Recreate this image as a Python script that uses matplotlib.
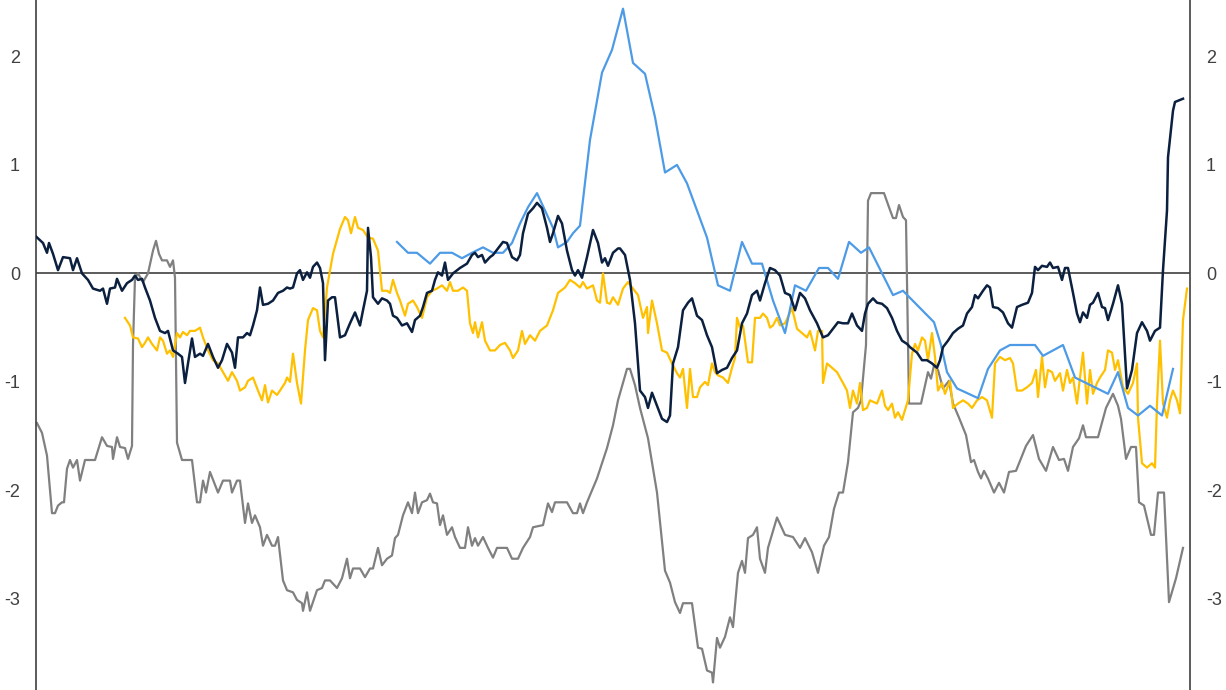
import matplotlib
matplotlib.use("Agg")
import matplotlib.pyplot as plt

# time index (arbitrary units, no x labels on the chart)
navy_t = [0, 7, 11, 13, 17, 22, 27, 34, 37, 41, 46, 52, 57, 64, 67, 71, 74, 79, 81, 86,
          91, 96, 99, 102, 106, 109, 114, 119, 124, 129, 132, 137, 142, 146, 149, 152, 156, 159, 164, 167,
          172, 177, 182, 186, 191, 196, 199, 202, 207, 211, 214, 217, 221, 224, 227, 232, 237, 242, 247, 251,
          254, 257, 261, 264, 267, 271, 274, 277, 281, 284, 287, 289, 292, 296, 299, 304, 309, 314, 319, 324,
          327, 331, 332, 335, 337, 342, 346, 351, 354, 357, 361, 366, 371, 376, 379, 384, 387, 391, 396, 399,
          402, 406, 409, 412, 417, 424, 431, 436, 439, 442, 446, 449, 454, 457, 462, 467, 471, 476, 481, 484,
          487, 492, 497, 501, 506, 511, 514, 517, 522, 526, 531, 536, 539, 542, 546, 551, 557, 562, 566, 569,
          572, 577, 582, 584, 589, 594, 599, 604, 609, 612, 616, 621, 626, 631, 634, 637, 642, 647, 652, 656,
          661, 666, 671, 676, 681, 686, 691, 696, 701, 706, 711, 716, 721, 724, 729, 734, 739, 744, 749, 754,
          759, 764, 769, 774, 781, 787, 792, 797, 802, 807, 812, 816, 821, 826, 829, 832, 837, 841, 846, 851,
          856, 861, 866, 871, 874, 881, 886, 891, 896, 901, 904, 907, 912, 917, 922, 927, 931, 936, 939, 942,
          947, 951, 954, 957, 962, 967, 972, 976, 981, 986, 992, 996, 999, 1002, 1006, 1011, 1014, 1017, 1022, 1026,
          1029, 1032, 1037, 1041, 1044, 1047, 1051, 1054, 1057, 1062, 1066, 1069, 1072, 1077, 1082, 1086, 1091, 1096, 1101, 1106,
          1111, 1114, 1119, 1124, 1127, 1131, 1132, 1137, 1139, 1147]
navy_v = [0.34, 0.28, 0.19, 0.28, 0.18, 0.03, 0.15, 0.14, 0.03, 0.14, 0.00, -0.06, -0.14, -0.16, -0.14, -0.28, -0.14, -0.13, -0.05, -0.16,
          -0.09, -0.06, -0.02, -0.06, -0.05, -0.13, -0.25, -0.41, -0.53, -0.55, -0.53, -0.71, -0.74, -0.77, -1.01, -0.83, -0.60, -0.77, -0.74, -0.76,
          -0.65, -0.77, -0.87, -0.80, -0.65, -0.73, -0.87, -0.59, -0.59, -0.55, -0.57, -0.48, -0.34, -0.13, -0.29, -0.28, -0.25, -0.18, -0.16, -0.13,
          -0.14, -0.13, 0.00, 0.03, -0.06, 0.01, -0.04, 0.06, 0.10, 0.05, -0.09, -0.80, -0.25, -0.22, -0.22, -0.59, -0.57, -0.46, -0.36, -0.48,
          -0.34, -0.16, 0.42, 0.15, -0.22, -0.28, -0.23, -0.25, -0.28, -0.39, -0.41, -0.48, -0.46, -0.54, -0.43, -0.39, -0.31, -0.18, -0.16, -0.06,
          0.01, -0.02, 0.10, -0.06, 0.00, 0.05, 0.09, 0.17, 0.19, 0.15, 0.17, 0.10, 0.15, 0.17, 0.23, 0.29, 0.28, 0.15, 0.12, 0.17,
          0.37, 0.55, 0.60, 0.65, 0.60, 0.42, 0.29, 0.37, 0.53, 0.46, 0.21, 0.03, -0.02, 0.03, -0.04, 0.15, 0.40, 0.28, 0.10, 0.14,
          0.07, 0.19, 0.23, 0.23, 0.17, -0.06, -0.46, -1.08, -1.14, -1.24, -1.10, -1.22, -1.34, -1.37, -1.31, -0.83, -0.68, -0.34, -0.27, -0.23,
          -0.39, -0.43, -0.57, -0.68, -0.92, -0.89, -0.87, -0.78, -0.71, -0.46, -0.37, -0.20, -0.16, -0.25, -0.09, 0.05, 0.03, -0.02, -0.18, -0.20,
          -0.34, -0.18, -0.23, -0.34, -0.46, -0.59, -0.57, -0.51, -0.45, -0.46, -0.46, -0.37, -0.48, -0.53, -0.37, -0.28, -0.23, -0.27, -0.28, -0.32,
          -0.41, -0.53, -0.62, -0.65, -0.68, -0.73, -0.80, -0.80, -0.83, -0.87, -0.80, -0.68, -0.62, -0.55, -0.51, -0.48, -0.37, -0.31, -0.20, -0.23,
          -0.16, -0.11, -0.13, -0.31, -0.32, -0.36, -0.46, -0.50, -0.31, -0.29, -0.27, -0.18, 0.06, 0.03, 0.07, 0.06, 0.10, 0.05, 0.06, -0.06,
          0.05, 0.05, -0.18, -0.37, -0.45, -0.36, -0.41, -0.29, -0.27, -0.18, -0.31, -0.32, -0.43, -0.28, -0.11, -0.28, -1.06, -0.89, -0.55, -0.45,
          -0.53, -0.62, -0.53, -0.50, 0.03, 0.58, 1.07, 1.50, 1.58, 1.61]

gold_t = [89, 94, 97, 102, 106, 109, 112, 116, 121, 124, 127, 131, 134, 137, 141, 144, 147, 151, 154, 159,
          164, 167, 172, 177, 182, 187, 192, 196, 201, 204, 209, 212, 217, 222, 226, 229, 232, 236, 241, 244,
          249, 251, 254, 257, 261, 265, 269, 272, 277, 281, 284, 287, 291, 297, 304, 309, 312, 315, 319, 322,
          327, 332, 337, 342, 346, 351, 354, 357, 361, 364, 369, 372, 377, 381, 386, 391, 396, 401, 406, 411,
          414, 417, 422, 427, 431, 434, 437, 439, 442, 446, 449, 454, 459, 464, 469, 474, 477, 482, 486, 489,
          494, 499, 504, 511, 517, 522, 529, 534, 539, 544, 547, 551, 557, 561, 564, 567, 571, 574, 577, 582,
          587, 592, 597, 602, 607, 611, 612, 616, 621, 626, 631, 636, 641, 644, 647, 651, 654, 657, 661, 664,
          669, 672, 676, 679, 682, 687, 692, 696, 699, 701, 704, 707, 712, 716, 719, 724, 727, 731, 734, 737,
          741, 744, 749, 756, 761, 766, 771, 774, 779, 782, 786, 787, 791, 796, 801, 804, 807, 811, 814, 817,
          821, 824, 827, 831, 834, 841, 846, 849, 852, 856, 859, 862, 866, 869, 872, 876, 879, 882, 886, 889,
          892, 896, 899, 902, 906, 909, 914, 917, 922, 927, 932, 936, 941, 946, 951, 956, 959, 964, 969, 974,
          977, 981, 986, 991, 996, 1000, 1002, 1006, 1009, 1012, 1016, 1019, 1024, 1027, 1031, 1034, 1037, 1041, 1044, 1047,
          1051, 1054, 1057, 1061, 1064, 1069, 1072, 1076, 1079, 1082, 1087, 1092, 1097, 1101, 1102, 1106, 1111, 1116, 1119, 1121,
          1124, 1127, 1131, 1134, 1137, 1141, 1144, 1147, 1151]
gold_v = [-0.41, -0.48, -0.59, -0.60, -0.68, -0.64, -0.59, -0.65, -0.71, -0.59, -0.62, -0.74, -0.71, -0.77, -0.55, -0.59, -0.54, -0.57, -0.53, -0.53,
          -0.50, -0.59, -0.71, -0.80, -0.83, -0.91, -0.99, -0.91, -0.99, -1.08, -1.05, -0.99, -0.96, -1.08, -1.17, -1.03, -1.19, -1.08, -1.12, -1.08,
          -1.01, -0.96, -1.00, -0.74, -1.01, -1.20, -0.71, -0.43, -0.32, -0.34, -0.53, -0.59, -0.13, 0.18, 0.41, 0.52, 0.49, 0.37, 0.52, 0.42,
          0.40, 0.33, 0.32, 0.21, -0.16, -0.16, -0.18, -0.06, -0.18, -0.25, -0.39, -0.28, -0.25, -0.31, -0.41, -0.22, -0.16, -0.14, -0.11, -0.16,
          -0.08, -0.16, -0.16, -0.13, -0.16, -0.46, -0.55, -0.45, -0.59, -0.45, -0.62, -0.71, -0.71, -0.66, -0.64, -0.71, -0.78, -0.71, -0.53, -0.65,
          -0.57, -0.62, -0.53, -0.48, -0.34, -0.18, -0.13, -0.06, -0.09, -0.13, -0.08, -0.14, -0.11, -0.25, -0.27, 0.00, -0.27, -0.28, -0.22, -0.29,
          -0.14, -0.08, -0.14, -0.20, -0.41, -0.31, -0.55, -0.25, -0.46, -0.71, -0.73, -0.83, -0.92, -0.96, -0.88, -1.24, -0.88, -1.14, -1.14, -1.05,
          -1.00, -1.03, -0.83, -0.91, -0.94, -0.96, -1.01, -0.87, -0.78, -0.41, -0.50, -0.48, -0.82, -0.82, -0.41, -0.41, -0.37, -0.41, -0.50, -0.48,
          -0.41, -0.48, -0.46, -0.32, -0.51, -0.55, -0.59, -0.53, -0.71, -0.53, -0.53, -1.01, -0.83, -0.87, -0.91, -0.96, -1.01, -1.08, -1.24, -1.08,
          -1.20, -1.01, -1.26, -1.24, -1.17, -1.20, -1.08, -1.22, -1.26, -1.20, -1.33, -1.28, -1.35, -1.26, -1.17, -0.74, -0.65, -0.71, -0.59, -0.62,
          -0.80, -0.55, -0.77, -1.08, -1.01, -1.11, -0.99, -1.24, -1.20, -1.17, -1.20, -1.24, -1.17, -1.14, -1.17, -1.33, -0.83, -0.77, -0.80, -0.78,
          -0.83, -1.08, -1.08, -1.05, -1.01, -0.89, -1.14, -0.77, -1.05, -0.89, -0.91, -0.99, -0.92, -1.08, -0.89, -1.01, -0.96, -1.20, -0.96, -0.73,
          -1.20, -0.89, -1.11, -1.01, -0.96, -0.89, -0.71, -0.73, -0.89, -0.80, -1.05, -1.11, -1.01, -0.83, -1.33, -1.75, -1.79, -1.75, -1.79, -1.20,
          -0.62, -1.20, -1.33, -1.17, -1.08, -1.17, -1.29, -0.43, -0.14]

blue_t = [361, 372, 381, 394, 404, 416, 426, 436, 447, 457, 467, 476, 484, 492, 501, 509, 517, 522, 531, 537,
          544, 554, 566, 576, 587, 597, 609, 619, 629, 641, 651, 661, 671, 682, 694, 706, 716, 726, 737, 749,
          759, 770, 783, 792, 802, 813, 825, 833, 857, 867, 898, 905, 911, 921, 942, 952, 964, 974, 999, 1007,
          1027, 1039, 1072, 1082, 1092, 1102, 1114, 1126, 1137]
blue_v = [0.29, 0.19, 0.19, 0.09, 0.19, 0.19, 0.14, 0.19, 0.24, 0.19, 0.19, 0.28, 0.46, 0.61, 0.74, 0.58, 0.42, 0.24, 0.29, 0.37,
          0.44, 1.23, 1.85, 2.06, 2.44, 1.94, 1.84, 1.44, 0.93, 1.00, 0.83, 0.58, 0.33, -0.11, -0.16, 0.29, 0.09, 0.09, -0.25, -0.55,
          -0.11, -0.16, 0.05, 0.05, -0.05, 0.29, 0.19, 0.24, -0.20, -0.16, -0.45, -0.66, -0.91, -1.06, -1.15, -0.88, -0.71, -0.66, -0.66, -0.76,
          -0.66, -0.96, -1.11, -0.91, -1.24, -1.31, -1.22, -1.31, -0.88]

gray_t = [1, 6, 11, 16, 19, 22, 26, 28, 31, 34, 37, 41, 44, 49, 59, 66, 71, 76, 77, 81,
          84, 89, 92, 96, 97, 99, 102, 107, 112, 117, 120, 123, 126, 131, 134, 137, 139, 141, 146, 156,
          161, 164, 167, 170, 174, 179, 182, 187, 194, 196, 201, 204, 209, 212, 216, 219, 224, 227, 231, 236,
          239, 242, 247, 251, 257, 261, 266, 267, 271, 274, 281, 286, 289, 294, 301, 306, 311, 314, 317, 324,
          329, 334, 337, 342, 346, 351, 356, 359, 362, 367, 372, 376, 379, 382, 386, 391, 394, 397, 401, 404,
          407, 411, 416, 419, 424, 429, 432, 436, 439, 442, 447, 452, 457, 461, 471, 476, 482, 487, 494, 497,
          507, 512, 516, 519, 531, 537, 541, 544, 547, 551, 561, 571, 577, 582, 591, 594, 599, 604, 612, 621,
          629, 634, 639, 644, 647, 656, 662, 666, 671, 676, 677, 681, 684, 689, 694, 697, 702, 706, 709, 712,
          717, 721, 724, 729, 732, 741, 749, 757, 764, 769, 776, 782, 788, 793, 798, 803, 807, 812, 817, 822,
          825, 830, 832, 835, 848, 853, 857, 860, 863, 867, 870, 872, 873, 885, 892, 895, 898, 902, 907, 913,
          917, 923, 930, 935, 938, 942, 945, 948, 952, 958, 963, 968, 973, 980, 990, 997, 1003, 1010, 1017, 1023,
          1028, 1032, 1037, 1043, 1047, 1050, 1062, 1070, 1077, 1082, 1085, 1090, 1095, 1100, 1103, 1108, 1115, 1118, 1122, 1128,
          1133, 1140, 1147]
gray_v = [-1.38, -1.47, -1.68, -2.21, -2.21, -2.14, -2.11, -2.11, -1.80, -1.72, -1.79, -1.72, -1.91, -1.72, -1.72, -1.51, -1.59, -1.60, -1.71, -1.51,
          -1.60, -1.61, -1.71, -1.59, -0.66, -0.04, 0.00, -0.08, 0.00, 0.21, 0.30, 0.18, 0.12, 0.12, 0.06, 0.12, -0.04, -1.56, -1.72, -1.72,
          -2.11, -2.11, -1.91, -2.02, -1.83, -1.95, -2.02, -1.91, -1.91, -2.02, -1.91, -1.91, -2.30, -2.12, -2.30, -2.23, -2.34, -2.51, -2.41, -2.51,
          -2.51, -2.43, -2.83, -2.92, -2.94, -3.01, -3.04, -3.11, -2.94, -3.11, -2.92, -2.90, -2.83, -2.83, -2.90, -2.81, -2.63, -2.81, -2.72, -2.72,
          -2.80, -2.72, -2.72, -2.53, -2.69, -2.63, -2.60, -2.44, -2.41, -2.23, -2.11, -2.21, -2.02, -2.21, -2.11, -2.09, -2.03, -2.11, -2.12, -2.32,
          -2.23, -2.41, -2.34, -2.43, -2.53, -2.53, -2.34, -2.51, -2.44, -2.51, -2.43, -2.53, -2.62, -2.53, -2.53, -2.63, -2.63, -2.53, -2.43, -2.34,
          -2.32, -2.12, -2.20, -2.11, -2.11, -2.21, -2.21, -2.12, -2.21, -2.11, -1.89, -1.61, -1.40, -1.17, -0.88, -0.88, -1.03, -1.24, -1.52, -2.02,
          -2.74, -2.85, -3.03, -3.13, -3.04, -3.04, -3.45, -3.46, -3.66, -3.68, -3.77, -3.36, -3.45, -3.35, -3.17, -3.26, -2.76, -2.65, -2.76, -2.44,
          -2.41, -2.34, -2.63, -2.76, -2.53, -2.25, -2.41, -2.43, -2.53, -2.44, -2.57, -2.76, -2.51, -2.43, -2.17, -2.02, -2.02, -1.74, -1.28, -1.24,
          -1.17, -0.66, 0.67, 0.74, 0.74, 0.61, 0.51, 0.51, 0.63, 0.52, 0.49, -0.66, -1.20, -1.20, -0.91, -0.97, -0.85, -0.89, -1.06, -0.99,
          -1.20, -1.33, -1.49, -1.74, -1.72, -1.83, -1.89, -1.82, -1.89, -2.02, -1.93, -2.02, -1.83, -1.82, -1.59, -1.49, -1.71, -1.82, -1.60, -1.72,
          -1.71, -1.82, -1.60, -1.52, -1.40, -1.51, -1.51, -1.24, -1.11, -1.22, -1.34, -1.71, -1.60, -1.60, -2.11, -2.14, -2.41, -2.41, -2.02, -2.02,
          -3.03, -2.81, -2.53]

yticks = [-3, -2, -1, 0, 1, 2]

plt.rcParams['font.family'] = ['Liberation Sans', 'DejaVu Sans']

fig = plt.figure(figsize=(12.26, 6.9), dpi=100)
ax = fig.add_axes([36 / 1226, 0, 1154 / 1226, 1])

ax.axhline(0, color='#404040', lw=1.2, zorder=1)
ax.plot(gray_t, gray_v, color='#808080', lw=1.6, zorder=2)
ax.plot(gold_t, gold_v, color='#FFC000', lw=1.6, zorder=3)
ax.plot(blue_t, blue_v, color='#4d9be6', lw=1.6, zorder=4)
ax.plot(navy_t, navy_v, color='#0b1f3f', lw=1.8, zorder=5)

ax.set_xlim(0, 1154)
ax.set_ylim(-3.84, 2.52)
ax.set_xticks([])
ax.set_yticks(yticks)
ax.set_yticklabels([str(v) for v in yticks])
ax.tick_params(axis='y', left=False, right=False, labelleft=True, labelright=True,
               labelsize=13, labelcolor='#404040', pad=8)

for side in ['top', 'bottom']:
    ax.spines[side].set_visible(False)
for side in ['left', 'right']:
    ax.spines[side].set_color('#404040')
    ax.spines[side].set_linewidth(1.2)

fig.savefig('out.png', dpi=100)
